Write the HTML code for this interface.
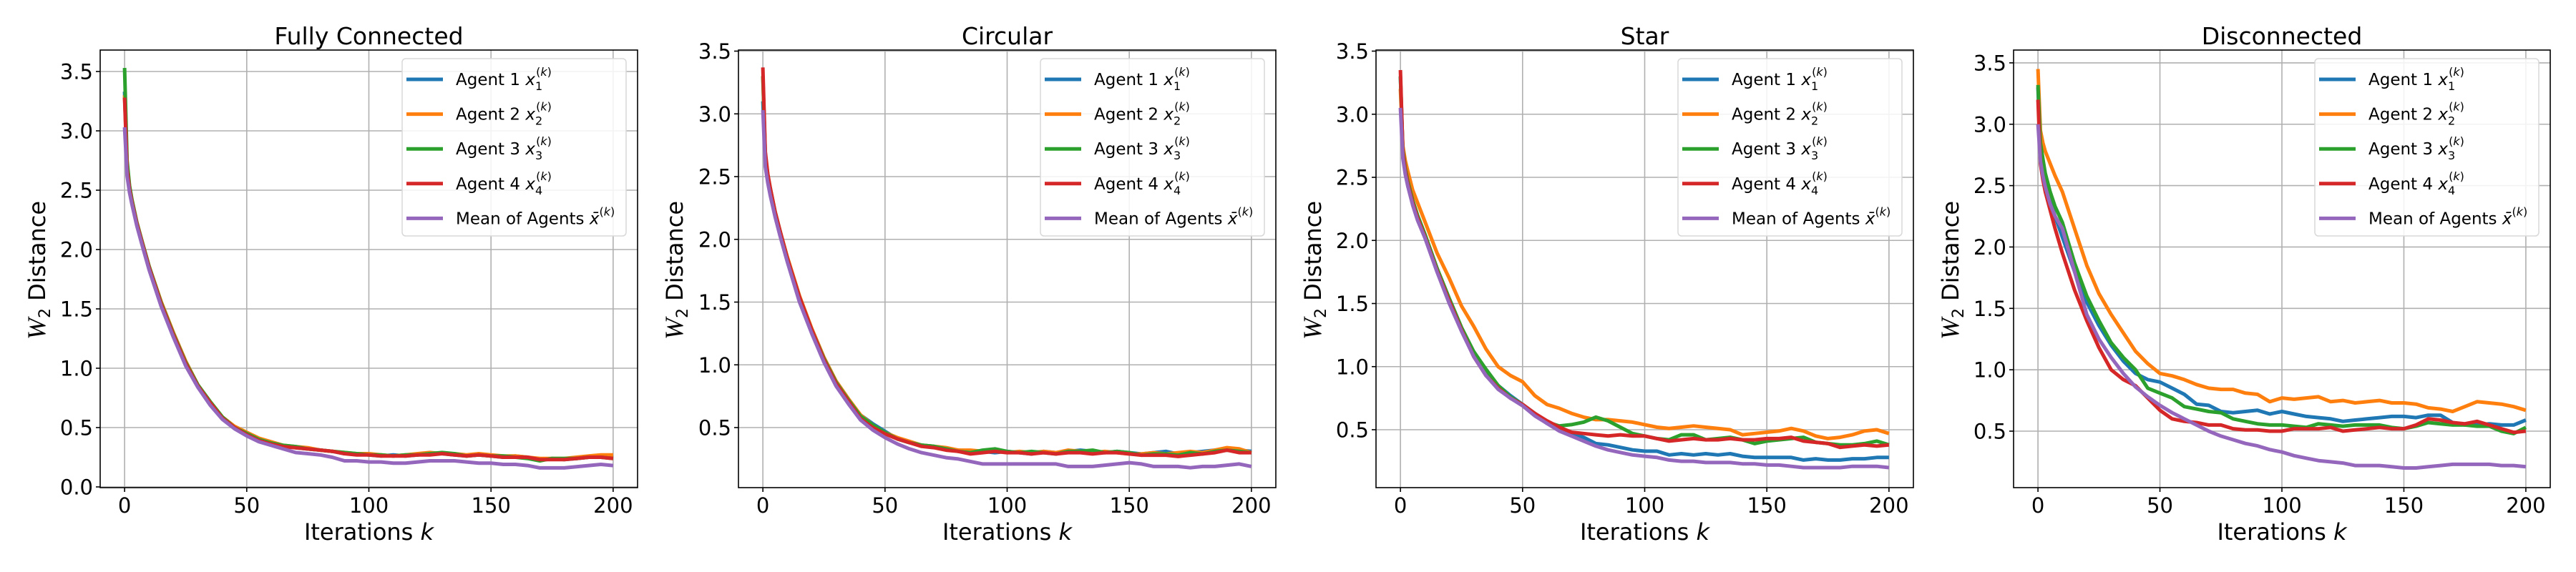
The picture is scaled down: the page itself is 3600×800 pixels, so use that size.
<!DOCTYPE html>
<html><head><meta charset="utf-8"><style>
html,body{margin:0;padding:0;background:#fff;}
svg{display:block;font-family:"DejaVu Sans","Liberation Sans",sans-serif;}
</style></head><body>
<svg id="fig" width="3600" height="800" viewBox="0 0 3600 800" xmlns="http://www.w3.org/2000/svg"></svg>
<script>
const iters = [0,1,2,3,5,7,10,15,20,25,30,35,40,45,50,55,60,65,70,75,80,85,90,95,100,105,110,115,120,125,130,135,140,145,150,155,160,165,170,175,180,185,190,195,200];
const seriesNames = ["Agent 1","Agent 2","Agent 3","Agent 4","Mean of Agents"];
const yTicksFull = [0.0,0.5,1.0,1.5,2.0,2.5,3.0,3.5];
const yTicksNoZero = [0.5,1.0,1.5,2.0,2.5,3.0,3.5];
const xTicks = [0,50,100,150,200];
const titles = ["Fully Connected","Circular","Star","Disconnected"];

const fcA1 = [3.33,2.7,2.52,2.41,2.22,2.07,1.85,1.54,1.28,1.04,0.85,0.71,0.58,0.5,0.45,0.40,0.37,0.35,0.33,0.32,0.31,0.30,0.28,0.28,0.27,0.26,0.27,0.26,0.27,0.28,0.28,0.27,0.26,0.27,0.26,0.25,0.26,0.25,0.23,0.24,0.23,0.24,0.25,0.26,0.25];
const fcA2 = [3.30,2.72,2.53,2.42,2.23,2.08,1.86,1.56,1.30,1.06,0.86,0.72,0.59,0.51,0.46,0.41,0.38,0.35,0.34,0.33,0.31,0.30,0.29,0.28,0.28,0.27,0.26,0.27,0.28,0.29,0.28,0.28,0.27,0.28,0.27,0.26,0.26,0.25,0.24,0.24,0.24,0.25,0.26,0.27,0.27];
const fcA3 = [3.53,2.75,2.54,2.42,2.23,2.08,1.86,1.55,1.29,1.05,0.86,0.72,0.59,0.50,0.45,0.40,0.37,0.35,0.34,0.32,0.31,0.30,0.29,0.28,0.27,0.27,0.26,0.27,0.27,0.28,0.29,0.28,0.26,0.27,0.26,0.26,0.25,0.24,0.22,0.24,0.24,0.24,0.25,0.25,0.24];
const fcA4 = [3.28,2.68,2.51,2.40,2.22,2.07,1.85,1.54,1.28,1.04,0.85,0.71,0.58,0.50,0.44,0.39,0.36,0.34,0.33,0.32,0.31,0.30,0.28,0.27,0.27,0.26,0.26,0.26,0.27,0.27,0.28,0.27,0.26,0.27,0.26,0.25,0.25,0.25,0.23,0.23,0.23,0.24,0.25,0.25,0.24];
const fcMean = [3.03,2.62,2.48,2.38,2.2,2.05,1.83,1.52,1.26,1.02,0.84,0.69,0.57,0.49,0.43,0.38,0.35,0.32,0.29,0.28,0.27,0.25,0.22,0.22,0.21,0.21,0.2,0.2,0.21,0.22,0.22,0.22,0.21,0.2,0.2,0.19,0.19,0.18,0.16,0.16,0.16,0.17,0.18,0.19,0.18];

const ciA1 = [3.10,2.65,2.50,2.40,2.21,2.06,1.85,1.54,1.28,1.05,0.86,0.72,0.60,0.53,0.47,0.41,0.38,0.36,0.35,0.33,0.32,0.31,0.31,0.30,0.31,0.30,0.29,0.31,0.30,0.31,0.32,0.31,0.30,0.31,0.30,0.29,0.30,0.31,0.29,0.30,0.31,0.32,0.33,0.32,0.31];
const ciA2 = [3.30,2.68,2.52,2.41,2.22,2.07,1.86,1.55,1.29,1.06,0.87,0.73,0.60,0.52,0.46,0.42,0.39,0.36,0.35,0.34,0.32,0.32,0.31,0.31,0.30,0.31,0.30,0.31,0.30,0.32,0.31,0.30,0.31,0.30,0.29,0.29,0.30,0.29,0.30,0.31,0.30,0.32,0.34,0.33,0.30];
const ciA3 = [3.30,2.67,2.51,2.41,2.22,2.07,1.85,1.54,1.28,1.05,0.86,0.72,0.59,0.52,0.46,0.41,0.38,0.36,0.35,0.33,0.31,0.30,0.32,0.33,0.31,0.30,0.31,0.30,0.29,0.31,0.31,0.32,0.30,0.31,0.30,0.28,0.29,0.29,0.28,0.30,0.29,0.31,0.32,0.31,0.30];
const ciA4 = [3.37,2.70,2.52,2.41,2.22,2.07,1.85,1.54,1.28,1.04,0.85,0.71,0.57,0.50,0.45,0.41,0.38,0.35,0.34,0.32,0.31,0.29,0.30,0.31,0.30,0.30,0.29,0.30,0.29,0.30,0.30,0.29,0.30,0.30,0.29,0.28,0.28,0.28,0.27,0.28,0.29,0.30,0.32,0.30,0.30];
const ciMean = [3.03,2.58,2.45,2.35,2.18,2.03,1.82,1.50,1.25,1.02,0.83,0.69,0.56,0.48,0.42,0.37,0.33,0.30,0.28,0.26,0.25,0.23,0.21,0.21,0.21,0.21,0.21,0.21,0.21,0.19,0.19,0.19,0.20,0.21,0.22,0.21,0.19,0.19,0.19,0.18,0.19,0.19,0.20,0.21,0.19];

const stA1 = [3.30,2.70,2.55,2.45,2.30,2.18,2.04,1.77,1.52,1.30,1.10,0.96,0.85,0.77,0.70,0.62,0.55,0.50,0.47,0.44,0.39,0.38,0.36,0.34,0.33,0.33,0.30,0.31,0.30,0.31,0.30,0.31,0.29,0.28,0.28,0.28,0.28,0.26,0.27,0.26,0.26,0.27,0.27,0.28,0.28];
const stA2 = [3.20,2.75,2.63,2.55,2.40,2.30,2.15,1.90,1.70,1.48,1.32,1.14,1.00,0.93,0.88,0.77,0.70,0.67,0.63,0.60,0.58,0.58,0.57,0.56,0.54,0.52,0.51,0.52,0.53,0.52,0.51,0.50,0.46,0.47,0.48,0.49,0.51,0.49,0.45,0.43,0.44,0.46,0.49,0.50,0.47];
const stA3 = [3.30,2.72,2.57,2.47,2.32,2.20,2.05,1.78,1.54,1.31,1.12,0.98,0.85,0.76,0.70,0.63,0.56,0.53,0.54,0.56,0.60,0.57,0.52,0.47,0.45,0.43,0.42,0.46,0.46,0.42,0.43,0.44,0.42,0.39,0.41,0.42,0.43,0.44,0.40,0.39,0.38,0.38,0.39,0.41,0.38];
const stA4 = [3.35,2.70,2.55,2.45,2.30,2.18,2.03,1.76,1.52,1.29,1.08,0.93,0.83,0.75,0.70,0.63,0.57,0.52,0.48,0.47,0.46,0.45,0.46,0.45,0.45,0.43,0.41,0.42,0.43,0.42,0.42,0.43,0.42,0.42,0.43,0.43,0.44,0.41,0.40,0.39,0.36,0.37,0.38,0.37,0.38];
const stMean = [3.05,2.65,2.52,2.43,2.28,2.16,2.02,1.75,1.50,1.28,1.08,0.93,0.82,0.75,0.69,0.61,0.55,0.49,0.45,0.41,0.37,0.34,0.32,0.30,0.29,0.28,0.26,0.25,0.25,0.24,0.24,0.24,0.23,0.23,0.22,0.22,0.21,0.20,0.20,0.20,0.20,0.21,0.21,0.21,0.20];

const dcA1 = [3.30,2.75,2.62,2.52,2.38,2.25,2.08,1.80,1.55,1.36,1.20,1.07,0.97,0.92,0.90,0.85,0.80,0.72,0.71,0.66,0.65,0.66,0.67,0.64,0.66,0.64,0.62,0.61,0.60,0.58,0.59,0.60,0.61,0.62,0.62,0.61,0.63,0.63,0.57,0.55,0.55,0.56,0.55,0.55,0.59];
const dcA2 = [3.45,2.95,2.85,2.78,2.68,2.58,2.45,2.15,1.85,1.62,1.45,1.30,1.15,1.05,0.97,0.95,0.92,0.88,0.85,0.84,0.84,0.81,0.80,0.74,0.77,0.76,0.77,0.78,0.74,0.75,0.73,0.74,0.75,0.73,0.73,0.72,0.69,0.68,0.66,0.70,0.74,0.73,0.72,0.70,0.67];
const dcA3 = [3.32,2.85,2.72,2.60,2.45,2.33,2.20,1.87,1.60,1.40,1.22,1.10,1.00,0.85,0.81,0.77,0.70,0.68,0.66,0.65,0.60,0.58,0.56,0.55,0.55,0.54,0.53,0.56,0.55,0.54,0.55,0.55,0.55,0.53,0.52,0.54,0.57,0.56,0.55,0.55,0.54,0.54,0.50,0.48,0.53];
const dcA4 = [3.20,2.68,2.55,2.45,2.30,2.15,1.95,1.65,1.40,1.18,1.00,0.92,0.87,0.77,0.67,0.60,0.58,0.57,0.55,0.55,0.52,0.51,0.51,0.50,0.50,0.52,0.52,0.52,0.53,0.50,0.51,0.52,0.53,0.52,0.52,0.55,0.60,0.59,0.57,0.56,0.58,0.55,0.52,0.49,0.50];
const dcMean = [3.00,2.70,2.58,2.49,2.35,2.25,2.15,1.80,1.45,1.25,1.10,0.97,0.86,0.78,0.71,0.65,0.60,0.55,0.50,0.46,0.43,0.40,0.38,0.35,0.33,0.30,0.28,0.26,0.25,0.24,0.22,0.22,0.22,0.21,0.20,0.20,0.21,0.22,0.23,0.23,0.23,0.23,0.22,0.22,0.21];

const colors = ["#1f77b4","#ff7f0e","#2ca02c","#d62728","#9467bd"];
const NS = "http://www.w3.org/2000/svg";
const svg = document.getElementById("fig");
function mk(tag, attrs, parent){ const e=document.createElementNS(NS,tag); for(const k in attrs) e.setAttribute(k,attrs[k]); (parent||svg).appendChild(e); return e; }

const panels = [
 {L:140,R:891,T:70,B:682,y0:681,py:166,yt:yTicksFull,ylx:52,data:[fcA1,fcA2,fcA3,fcA4,fcMean]},
 {L:1032,R:1783,T:70,B:682,y0:598+0.5*175.5,py:175.5,yt:yTicksNoZero,ylx:943,data:[ciA1,ciA2,ciA3,ciA4,ciMean]},
 {L:1923,R:2674,T:70,B:682,y0:601+0.5*176.5,py:176.5,yt:yTicksNoZero,ylx:1835,data:[stA1,stA2,stA3,stA4,stMean]},
 {L:2814,R:3564,T:70,B:682,y0:603+0.5*171.7,py:171.7,yt:yTicksNoZero,ylx:2726,data:[dcA1,dcA2,dcA3,dcA4,dcMean]}
];

panels.forEach((p,pi)=>{
  const xs = v => p.L + (v+10)/220*(p.R-p.L);
  const ys = v => p.y0 - v*p.py;
  const g = mk("g",{});
  
  
  const clipId="clip"+pi;
  const cp=mk("clipPath",{id:clipId},g); mk("rect",{x:p.L,y:p.T,width:p.R-p.L,height:p.B-p.T},cp);
  xTicks.forEach(t=>{
    const l=mk("line",{x1:xs(t),x2:xs(t),y1:p.T,y2:p.B,stroke:"#b0b0b0","stroke-width":1.6},g);
    
    
    mk("line",{x1:xs(t),x2:xs(t),y1:p.B,y2:p.B+6,stroke:"#000","stroke-width":1.6},g);
    const tx=mk("text",{x:xs(t),y:717,"font-size":29,"text-anchor":"middle",fill:"#000"},g);
    tx.textContent=String(t);
    
    
  });
  p.yt.forEach(t=>{
    const l=mk("line",{x1:p.L,x2:p.R,y1:ys(t),y2:ys(t),stroke:"#b0b0b0","stroke-width":1.6},g);
    
    
    mk("line",{x1:p.L-6,x2:p.L,y1:ys(t),y2:ys(t),stroke:"#000","stroke-width":1.6},g);
    const tx=mk("text",{x:p.L-10,y:ys(t)+10.5,"font-size":29,"text-anchor":"end",fill:"#000"},g);
    tx.textContent=t.toFixed(1);
    
    
  });
  const sg=mk("g",{"clip-path":"url(#"+clipId+")"},g);
  p.data.forEach((arr,si)=>{
    const n=Math.min(arr.length,iters.length);
    let d="";
    for(let i=0;i<n;i++) d+=(i?"L":"M")+xs(iters[i]).toFixed(1)+","+ys(arr[i]).toFixed(1);
    const path=mk("path",{d:d,fill:"none",stroke:colors[si],"stroke-width":5,"stroke-linejoin":"round","stroke-linecap":"butt"},sg);
    
    
  });
  const fr=mk("rect",{x:p.L,y:p.T,width:p.R-p.L,height:p.B-p.T,fill:"none",stroke:"#000","stroke-width":1.6},g);
  
  
  const ti=mk("text",{x:(p.L+p.R)/2,y:62,"font-size":33,"text-anchor":"middle",fill:"#000"},g);
  ti.textContent=titles[pi];
  
  
  const xl=mk("text",{x:(p.L+p.R)/2,y:755,"font-size":32,"text-anchor":"middle",fill:"#000"},g);
  xl.innerHTML='Iterations <tspan font-style="italic">k</tspan>';
  
  
  const yl=mk("text",{x:0,y:0,"font-size":32,"text-anchor":"middle",fill:"#000",transform:"translate("+(p.ylx+11)+",378) rotate(-90)"},g);
  yl.innerHTML='<tspan font-family="Liberation Serif, serif" font-style="italic" font-size="36">W</tspan><tspan font-size="22" dy="7">2</tspan><tspan dy="-7"> Distance</tspan>';
  
  
  const lx=p.R-329, ly=p.T+12;
  const lg=mk("g",{},g);
  
  
  mk("rect",{x:lx,y:ly,width:313,height:248,rx:5,fill:"#fff","fill-opacity":0.85,stroke:"#d8d8d8","stroke-width":1.5},lg);
  const subs=["1","2","3","4",""];
  seriesNames.forEach((nm,si)=>{
    const cy=ly+29+si*48.6;
    const hl=mk("line",{x1:lx+6,x2:lx+57,y1:cy,y2:cy,stroke:colors[si],"stroke-width":5},lg);
    
    
    const t=mk("text",{x:lx+75,y:cy+8,"font-size":23,fill:"#000"},lg);
    if(si<4){
      t.innerHTML=nm+' <tspan font-style="italic">x</tspan><tspan font-size="16" dy="7">'+subs[si]+'</tspan><tspan font-size="16" dx="-9" dy="-20">(</tspan><tspan font-size="16" font-style="italic">k</tspan><tspan font-size="16">)</tspan>';
    } else {
      t.innerHTML=nm+' <tspan font-style="italic">x̄</tspan><tspan font-size="16" dy="-12">(</tspan><tspan font-size="16" font-style="italic">k</tspan><tspan font-size="16">)</tspan>';
    }
    
    
  });
});
</script>
</body></html>
